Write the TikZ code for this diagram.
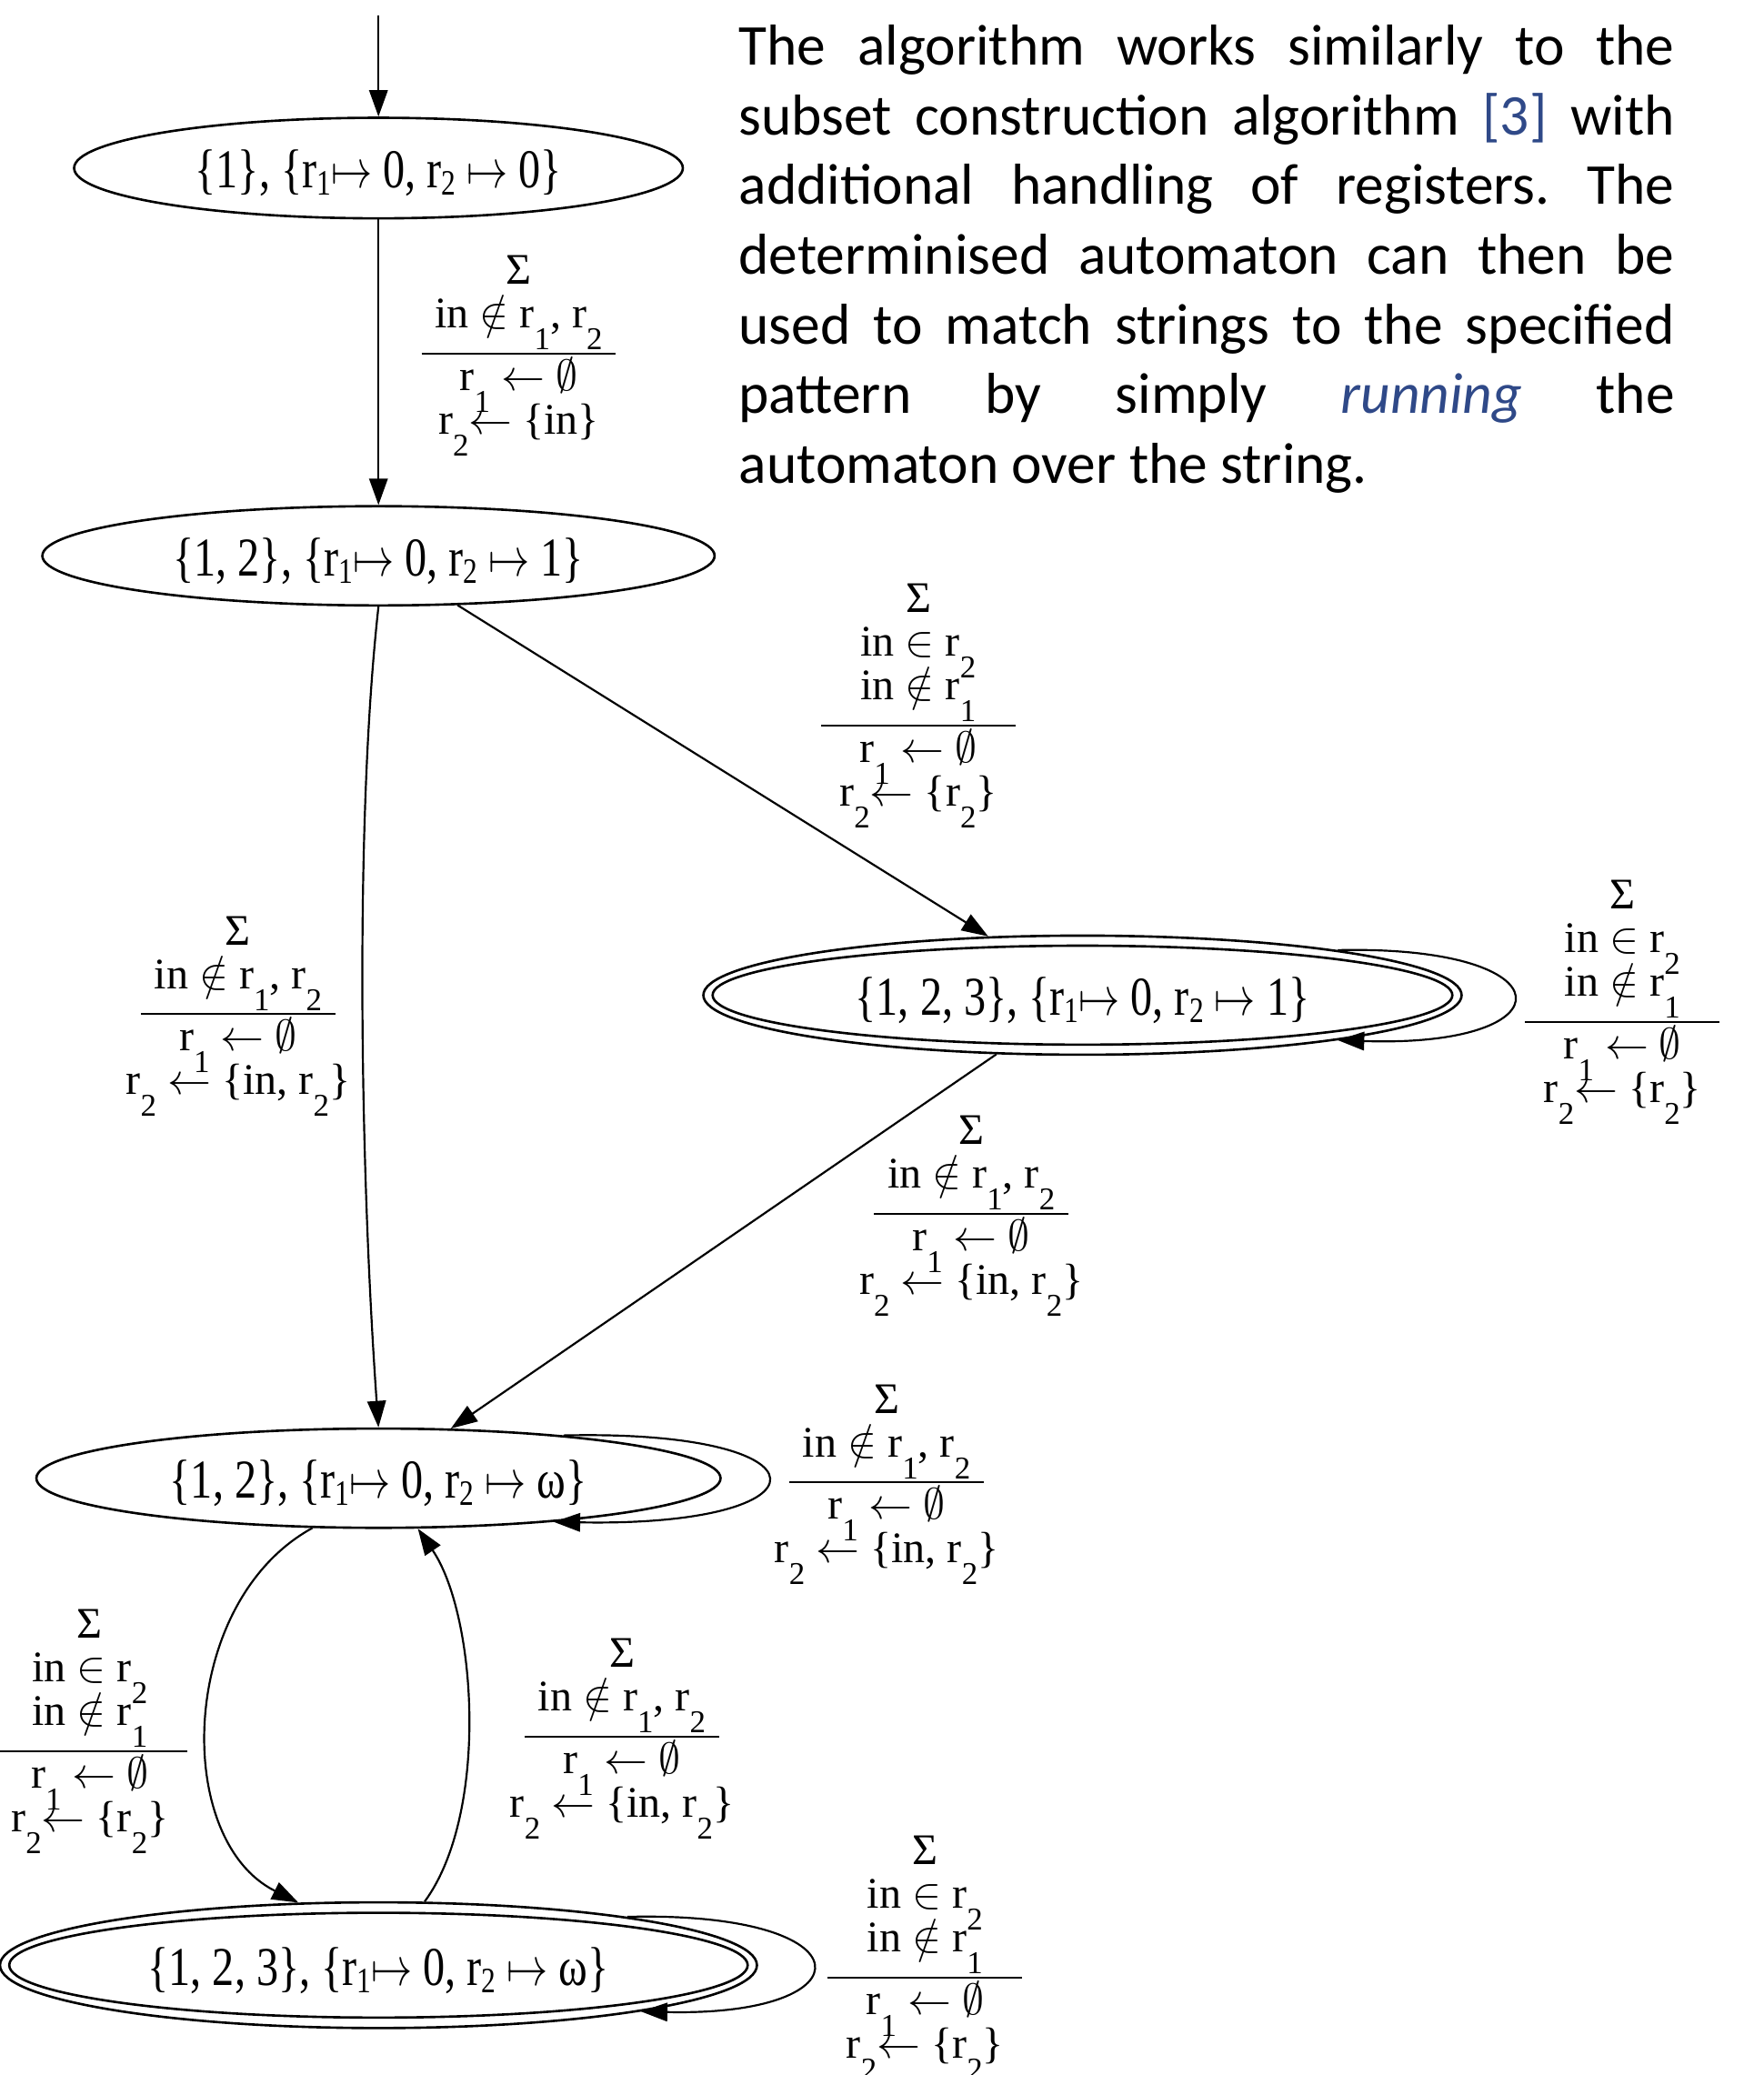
\RequirePackage{fix-cm}
\documentclass[tikz,border=0pt]{standalone}
\usepackage{amssymb}
\usepackage{graphicx}
\usepackage{fontspec}
\usetikzlibrary{arrows.meta,shapes.geometric}
\setmainfont{Liberation Serif}
\newfontfamily\gcond[FakeStretch=0.8]{Liberation Serif}
\newfontfamily\gserif{Liberation Serif}
\newfontfamily\parfont{Carlito}
\definecolor{refblue}{RGB}{47,73,136}
\frenchspacing

\newcommand\nsub[1]{\raisebox{-2.75pt}{\fontsize{13.5}{13.5}\selectfont #1}}
\newcommand\lsub[1]{\raisebox{-8.25pt}[0pt][0pt]{\fontsize{12}{12}\selectfont #1}}
\newcommand\mt{\scalebox{0.75}[1]{$\mapsto$}}
\newcommand\lrule{\\[-6.5pt]\rule{73.5pt}{0.7pt}\\[-3pt]}
\newcommand\labAB{Σ\\ in $\notin$ r\lsub{1}, r\lsub{2}\lrule r\lsub{1} $\leftarrow$ $\emptyset$\\ r\lsub{2}$\leftarrow$ \{in\}}
\newcommand\labIn{Σ\\ in $\notin$ r\lsub{1}, r\lsub{2}\lrule r\lsub{1} $\leftarrow$ $\emptyset$\\ r\lsub{2} $\leftarrow$ \{in, r\lsub{2}\}}
\newcommand\labR{Σ\\ in $\in$ r\lsub{2}\\ in $\notin$ r\lsub{1}\lrule r\lsub{1} $\leftarrow$ $\emptyset$\\ r\lsub{2}$\leftarrow$ \{r\lsub{2}\}}

\tikzset{
  state/.style={draw, ellipse, line width=0.9pt, inner sep=0pt,
    font=\gcond\fontsize{20.7}{22}\selectfont, text height=15pt, text depth=0pt},
  arr/.style={-{Triangle[length=10pt,width=7pt]}, line width=0.75pt},
  lab/.style={align=center, inner sep=0pt, anchor=north,
    font=\gserif\fontsize{16.5}{16.5}\selectfont},
}

\begin{document}
\begin{tikzpicture}[x=0.5pt, y=-0.5pt]
\useasboundingbox (0,0) rectangle (1333,1568);

% states
\node[state, minimum width=230pt, minimum height=38pt] (A) at (286,127)
  {\{1\}, \{r\nsub{1}\mt\ 0, r\nsub{2} \mt\ 0\}};
\node[state, minimum width=254pt, minimum height=37.5pt] (B) at (286,420)
  {\{1, 2\}, \{r\nsub{1}\mt\ 0, r\nsub{2} \mt\ 1\}};
\node[state, minimum width=286.5pt, minimum height=45pt] (C) at (818,752)
  {\{1, 2, 3\}, \{r\nsub{1}\mt\ 0, r\nsub{2} \mt\ 1\}};
\draw[line width=0.9pt] (C.center) ellipse [x radius=139.75pt, y radius=18.7pt];
\node[state, minimum width=258.5pt, minimum height=37.5pt] (D) at (286,1117)
  {\{1, 2\}, \{r\nsub{1}\mt\ 0, r\nsub{2} \mt\ ω\}};
\node[state, minimum width=286pt, minimum height=47.5pt] (E) at (286,1485)
  {\{1, 2, 3\}, \{r\nsub{1}\mt\ 0, r\nsub{2} \mt\ ω\}};
\draw[line width=0.9pt] (E.center) ellipse [x radius=139.5pt, y radius=19.8pt];

% edges
\coordinate (init) at (286,12);
\draw[arr] (init) -- (A);
\draw[arr] (A) -- (B);
\draw[arr] (B) -- (C);
\draw[arr] (B.south) .. controls (268,620) and (272,880) .. (D.north);
\draw[arr] (C) -- (D);
\draw[arr] (C.10) .. controls (1187,714) and (1187,792) .. (C.-10);
\draw[arr] (D.13) .. controls (632,1080) and (632,1154) .. (D.-14);
\draw[arr] (D.217) .. controls (135,1210) and (130,1390) .. (E.142);
\draw[arr] (E.54) .. controls (370,1370) and (360,1220) .. (D.-52);
\draw[arr] (E.11) .. controls (658,1444) and (658,1524) .. (E.-10);

% labels
\node[lab] (lAB) at (392,193) {\labAB};
\node[lab] (lBC) at (694,441) {\labR};
\node[lab] (lCC) at (1226,665) {\labR};
\node[lab] (lBD) at (180,692) {\labIn};
\node[lab] (lCD) at (734,843) {\labIn};
\node[lab] (lDD) at (670,1046) {\labIn};
\node[lab] (lDE) at (68,1216) {\labR};
\node[lab] (lED) at (470,1238) {\labIn};
\node[lab] (lEE) at (699,1387) {\labR};

% paragraph
\node[anchor=north west, inner sep=0pt, align=left,
  font={\parfont\fontsize{21.8}{26.33}\selectfont}] (para) at (558,18.5)
  {\makebox[353.5pt][s]{The algorithm works similarly to the}\\
   \makebox[353.5pt][s]{subset construction algorithm \textcolor{refblue}{[3]} with}\\
   \makebox[353.5pt][s]{additional handling of registers. The}\\
   \makebox[353.5pt][s]{determinised automaton can then be}\\
   \makebox[353.5pt][s]{used to match strings to the specified}\\
   \makebox[353.5pt][s]{pattern by simply \textcolor{refblue}{\textit{running}} the}\\
   automaton over the string.};
\end{tikzpicture}
\end{document}
